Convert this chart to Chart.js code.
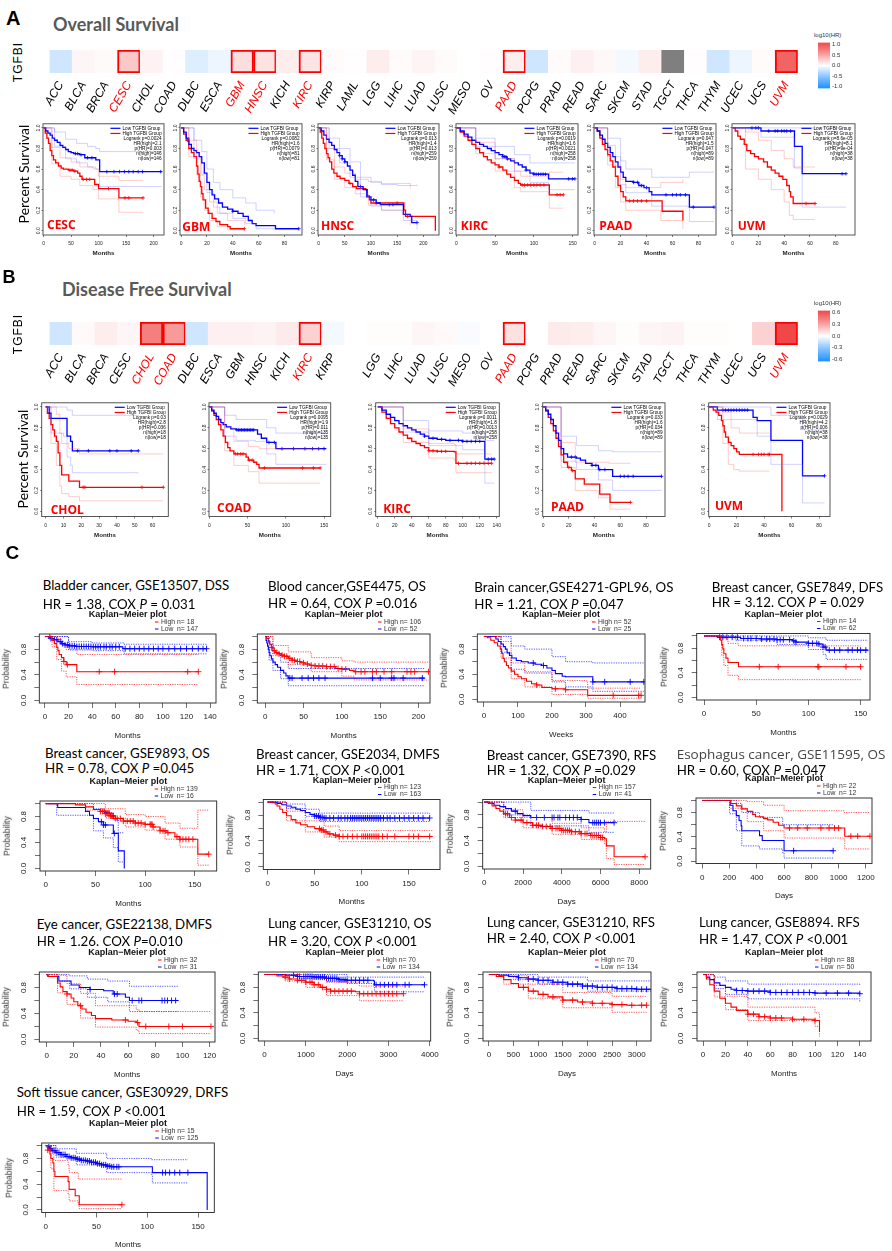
<!DOCTYPE html>
<html>
<head>
<meta charset="utf-8">
<title>TGFBI survival</title>
<script src="https://cdn.jsdelivr.net/npm/chart.js@4.4.1/dist/chart.umd.min.js"></script>
<style>
  html, body { margin: 0; padding: 0; background: #fff; }
  body { position: relative; width: 892px; height: 1251px; overflow: hidden; font-family: "Liberation Sans", Arial, sans-serif; }
  canvas, .t { position: absolute; }
  .t { white-space: nowrap; line-height: 1; color: #000; }
  .panel { font-weight: bold; font-size: 19px; }
  .head { font-family: Lato, sans-serif; font-weight: bold; font-size: 18px; color: #595959; }
  .ttl { font-family: Lato, sans-serif; font-size: 13.3px; }
  .rot { transform: translate(-50%, -50%) rotate(-90deg); }
</style>
</head>
<body>
<script>
// ---------- heatmap data ----------
const cancerTypes = ['ACC','BLCA','BRCA','CESC','CHOL','COAD','DLBC','ESCA','GBM','HNSC','KICH','KIRC','KIRP','LAML','LGG','LIHC','LUAD','LUSC','MESO','OV','PAAD','PCPG','PRAD','READ','SARC','SKCM','STAD','TGCT','THCA','THYM','UCEC','UCS','UVM'];
const osLogHR = [-0.22,0.05,0.03,0.3,0.07,0.01,-0.15,-0.08,0.18,0.16,0.1,0.15,0.02,0.01,0.1,0.02,0.06,0.02,0.0,0.01,0.1,-0.22,0.02,0.08,0.04,-0.05,0.1,NaN,0.01,-0.22,-0.08,0.02,0.85];
const osSig = ['CESC','GBM','HNSC','KIRC','PAAD','UVM'];
const dfsTypes = cancerTypes.map(c => c === 'LAML' ? '' : c);
const dfsLogHR = [-0.13,0.02,0.06,0.03,0.42,0.33,-0.13,0.05,0.05,0.04,0.07,0.15,-0.03,null,0.01,0.01,0.03,0.02,-0.02,0.0,0.1,0.0,0.07,0.06,0.03,0.01,0.03,0.04,0.01,0.01,0.0,0.15,0.6];
const dfsSig = ['CHOL','COAD','KIRC','PAAD','UVM'];
const osBarTicks = [-1,-0.5,0,0.5,1];
const dfsBarTicks = [-0.6,-0.3,0,0.3,0.6];

// ---------- A: overall survival (GEPIA) ----------
const osCescTicks = [0,50,100,150,200];
const osCescStats = ['Logrank p=0.0024','HR(high)=2.1','p(HR)=0.003','n(high)=146','n(low)=146'];
const osCescLow = [[0,1],[4,0.97],[8,0.95],[12,0.93],[16,0.9],[20,0.88],[25,0.86],[30,0.83],[35,0.81],[40,0.79],[45,0.77],[50,0.76],[55,0.75],[65,0.74],[75,0.71],[90,0.71],[95,0.69],[102,0.575],[215,0.575]];
const osCescLowUp = [[0,1],[20,0.96],[40,0.89],[60,0.85],[80,0.82],[95,0.8],[102,0.77],[215,0.77]];
const osCescLowLo = [[0,1],[20,0.82],[40,0.7],[60,0.66],[80,0.62],[95,0.6],[102,0.43],[215,0.43]];
const osCescLowCens = [58,62,68,80,88,115,128,138,147,155,163,172,180,213];
const osCescHigh = [[0,1],[3,0.95],[6,0.9],[9,0.85],[12,0.78],[15,0.73],[18,0.69],[22,0.66],[27,0.63],[32,0.61],[36,0.6],[45,0.59],[55,0.58],[62,0.56],[66,0.53],[70,0.5],[90,0.5],[93,0.45],[100,0.41],[136,0.41],[137,0.32],[181,0.32]];
const osCescHighUp = [[0,1],[15,0.81],[30,0.71],[50,0.67],[66,0.62],[90,0.6],[100,0.53],[136,0.53],[137,0.49],[181,0.49]];
const osCescHighLo = [[0,1],[15,0.65],[30,0.53],[50,0.5],[66,0.44],[90,0.4],[100,0.31],[136,0.3],[137,0.18],[181,0.18]];
const osCescHighCens = [48,52,57,72,78,84,118,148,155,181];

const osGbmTicks = [0,20,40,60,80];
const osGbmStats = ['Logrank p=0.0082','HR(high)=1.6','p(HR)=0.0079','n(high)=81','n(low)=81'];
const osGbmLow = [[0,1],[2,0.96],[4,0.9],[6,0.84],[8,0.8],[10,0.78],[12,0.76],[14,0.72],[16,0.66],[18,0.56],[20,0.47],[22,0.4],[24,0.35],[26,0.31],[29,0.27],[32,0.23],[36,0.21],[40,0.19],[44,0.17],[48,0.14],[52,0.1],[55,0.07],[58,0.05],[72,0.05],[73,0.02],[91,0.02]];
const osGbmLowUp = [[0,1],[10,0.88],[16,0.77],[20,0.6],[25,0.47],[30,0.4],[40,0.32],[50,0.27],[58,0.2],[72,0.17]];
const osGbmLowLo = [[0,1],[10,0.7],[16,0.55],[20,0.37],[25,0.23],[30,0.17],[40,0.12],[50,0.07],[58,0.02],[72,0.01]];
const osGbmLowCens = [40,91];
const osGbmHigh = [[0,1],[2,0.94],[4,0.88],[6,0.8],[8,0.76],[10,0.72],[12,0.63],[13,0.55],[14,0.48],[15,0.43],[16,0.36],[17,0.3],[19,0.22],[21,0.17],[24,0.12],[27,0.09],[30,0.06],[36,0.04],[38,0.02],[49,0.02]];
const osGbmHighUp = [[0,1],[6,0.88],[12,0.72],[15,0.54],[18,0.4],[22,0.28],[28,0.17],[36,0.1],[49,0.06]];
const osGbmHighLo = [[0,1],[6,0.72],[12,0.54],[15,0.33],[18,0.2],[22,0.1],[28,0.04],[36,0.01],[49,0.0]];
const osGbmHighCens = [5,49];

const osHnscTicks = [0,50,100,150,200];
const osHnscStats = ['Logrank p=0.013','HR(high)=1.4','p(HR)=0.013','n(high)=259','n(low)=259'];
const osHnscLow = [[0,1],[5,0.97],[10,0.93],[15,0.89],[20,0.86],[25,0.83],[30,0.79],[35,0.76],[40,0.73],[45,0.7],[50,0.67],[55,0.63],[60,0.59],[65,0.54],[70,0.48],[75,0.43],[85,0.4],[92,0.33],[100,0.3],[110,0.27],[118,0.255],[160,0.255],[162,0.16],[175,0.14],[178,0.08],[188,0.08]];
const osHnscLowUp = [[0,1],[20,0.9],[40,0.8],[60,0.67],[80,0.52],[100,0.47],[120,0.45],[150,0.44],[188,0.45]];
const osHnscLowLo = [[0,1],[20,0.8],[40,0.66],[60,0.52],[80,0.33],[100,0.24],[120,0.2],[162,0.1],[188,0.01]];
const osHnscLowCens = [40,45,50,80,105,135,142,188];
const osHnscHigh = [[0,1],[3,0.96],[6,0.9],[9,0.85],[12,0.8],[15,0.75],[18,0.71],[21,0.67],[25,0.6],[29,0.56],[35,0.53],[41,0.51],[50,0.49],[58,0.46],[65,0.43],[72,0.41],[90,0.4],[93,0.34],[97,0.3],[100,0.27],[160,0.27],[163,0.2],[166,0.14],[222,0.14],[223,0]];
const osHnscHighUp = [[0,1],[15,0.8],[30,0.62],[50,0.56],[70,0.5],[95,0.48],[120,0.46],[175,0.41]];
const osHnscHighLo = [[0,1],[15,0.69],[30,0.5],[50,0.42],[70,0.36],[95,0.25],[120,0.2],[160,0.16],[175,0.05]];
const osHnscHighCens = [60,110,150,170];

const osKircTicks = [0,50,100,150];
const osKircStats = ['Logrank p=0.0019','HR(high)=1.6','p(HR)=0.0021','n(high)=258','n(low)=258'];
const osKircLow = [[0,1],[5,0.97],[10,0.94],[15,0.91],[20,0.88],[25,0.86],[30,0.84],[35,0.82],[40,0.8],[45,0.78],[50,0.76],[55,0.74],[60,0.72],[65,0.7],[70,0.68],[75,0.66],[80,0.64],[85,0.62],[90,0.59],[95,0.56],[100,0.55],[118,0.55],[119,0.505],[153,0.505]];
const osKircLowUp = [[0,1],[25,0.9],[50,0.82],[75,0.74],[95,0.66],[119,0.66],[153,0.66]];
const osKircLowLo = [[0,1],[25,0.82],[50,0.7],[75,0.58],[95,0.47],[119,0.4],[153,0.4]];
const osKircLowCens = [60,62,64,66,90,100,103,106,109,112,115,145,150,153];
const osKircHigh = [[0,1],[5,0.96],[10,0.92],[15,0.88],[20,0.84],[25,0.8],[30,0.76],[35,0.72],[40,0.69],[45,0.66],[50,0.64],[55,0.62],[60,0.59],[65,0.55],[70,0.52],[75,0.49],[80,0.46],[83,0.445],[119,0.445],[120,0.35],[138,0.35]];
const osKircHighUp = [[0,1],[25,0.86],[50,0.7],[75,0.58],[83,0.53],[119,0.53],[120,0.57],[138,0.57]];
const osKircHighLo = [[0,1],[25,0.75],[50,0.58],[75,0.42],[83,0.38],[119,0.36],[120,0.22],[138,0.22]];
const osKircHighCens = [55,85,88,92,96,100,104,108,113,130,134,138];

const osPaadTicks = [0,20,40,60,80];
const osPaadStats = ['Logrank p=0.047','HR(high)=1.5','p(HR)=0.047','n(high)=89','n(low)=89'];
const osPaadLow = [[0,1],[2,0.97],[4,0.93],[6,0.89],[8,0.85],[10,0.81],[12,0.76],[14,0.72],[16,0.67],[18,0.62],[20,0.57],[22,0.52],[24,0.48],[30,0.47],[34,0.44],[38,0.42],[42,0.38],[44,0.35],[72,0.35],[73,0.23],[92,0.23]];
const osPaadLowUp = [[0,1],[10,0.9],[20,0.68],[24,0.6],[44,0.52],[72,0.52],[73,0.57],[92,0.57]];
const osPaadLowLo = [[0,1],[10,0.72],[20,0.45],[24,0.37],[44,0.24],[72,0.23],[73,0.09],[92,0.09]];
const osPaadLowCens = [30,33,36,40,55,60,63,66,70,76,92];
const osPaadHigh = [[0,1],[2,0.97],[4,0.9],[6,0.84],[8,0.79],[10,0.74],[12,0.68],[14,0.62],[16,0.53],[18,0.44],[20,0.38],[22,0.33],[24,0.29],[51,0.29],[52,0.19],[67,0.19],[68,0.1]];
const osPaadHighUp = [[0,1],[10,0.83],[16,0.63],[20,0.5],[24,0.42],[51,0.47],[68,0.5]];
const osPaadHighLo = [[0,1],[10,0.64],[16,0.42],[20,0.28],[24,0.2],[51,0.1],[68,0.02]];
const osPaadHighCens = [27,30,33,36,40];

const osUvmTicks = [0,20,40,60,80];
const osUvmStats = ['Logrank p=8.6e-05','HR(high)=8.1','p(HR)=9e-04','n(high)=38','n(low)=38'];
const osUvmLow = [[0,1],[21,1],[22,0.97],[47,0.97],[48,0.82],[53,0.82],[54,0.555],[88,0.555]];
const osUvmLowUp = [[0,1],[88,1]];
const osUvmLowLo = [[0,1],[21,1],[22,0.91],[47,0.91],[48,0.61],[53,0.61],[54,0.23],[88,0.23]];
const osUvmLowCens = [15,18,20,28,33,35,38,40,42,45,85,88];
const osUvmHigh = [[0,1],[2,0.97],[4,0.92],[6,0.89],[9,0.84],[11,0.78],[14,0.75],[17,0.72],[20,0.7],[24,0.67],[27,0.62],[30,0.59],[33,0.56],[36,0.53],[39,0.5],[42,0.44],[44,0.38],[45,0.33],[47,0.265],[64,0.265]];
const osUvmHighUp = [[0,1],[10,0.96],[20,0.88],[30,0.78],[40,0.7],[47,0.62],[64,0.62]];
const osUvmHighLo = [[0,1],[10,0.6],[20,0.5],[30,0.4],[40,0.28],[44,0.15],[47,0.11],[64,0.11]];
const osUvmHighCens = [57,64];

// ---------- B: disease free survival (GEPIA) ----------
const dfsCholTicks = [0,10,20,30,40,50,60];
const dfsCholStats = ['Logrank p=0.03','HR(high)=2.8','p(HR)=0.036','n(high)=18','n(low)=18'];
const dfsCholLow = [[0,1],[2,0.94],[3,0.89],[10,0.89],[12,0.72],[14,0.67],[15,0.58],[52,0.58]];
const dfsCholLowUp = [[0,1],[10,1],[12,0.97],[15,0.92],[52,0.92]];
const dfsCholLowLo = [[0,1],[3,0.75],[10,0.72],[12,0.52],[14,0.44],[15,0.37],[52,0.37]];
const dfsCholLowCens = [18,24,36,40,48,52];
const dfsCholHigh = [[0,1],[1,0.94],[2,0.89],[3,0.83],[4,0.78],[5,0.72],[6,0.67],[7,0.56],[8,0.44],[9,0.35],[13,0.29],[19,0.23],[66,0.23]];
const dfsCholHighUp = [[0,1],[3,1],[6,0.93],[8,0.75],[9,0.65],[13,0.6],[19,0.55],[66,0.55]];
const dfsCholHighLo = [[0,1],[3,0.65],[6,0.44],[8,0.24],[9,0.17],[13,0.14],[19,0.1],[66,0.1]];
const dfsCholHighCens = [21,22,54,66];

const dfsCoadTicks = [0,50,100,150];
const dfsCoadStats = ['Logrank p=0.0095','HR(high)=1.9','p(HR)=0.011','n(high)=135','n(low)=135'];
const dfsCoadLow = [[0,1],[3,0.97],[6,0.94],[9,0.91],[12,0.88],[15,0.85],[18,0.83],[22,0.81],[28,0.79],[35,0.78],[60,0.78],[63,0.74],[68,0.7],[75,0.66],[82,0.66],[87,0.6],[153,0.6]];
const dfsCoadLowUp = [[0,1],[20,0.92],[35,0.88],[60,0.88],[75,0.8],[87,0.75],[153,0.75]];
const dfsCoadLowLo = [[0,1],[20,0.72],[35,0.68],[60,0.67],[75,0.55],[87,0.45],[153,0.45]];
const dfsCoadLowCens = [36,38,40,42,44,46,48,50,52,54,56,58,78,85,95,110,125,135,143,150];
const dfsCoadHigh = [[0,1],[3,0.96],[6,0.92],[9,0.88],[12,0.83],[15,0.78],[18,0.72],[21,0.66],[24,0.61],[27,0.58],[32,0.55],[42,0.55],[48,0.52],[51,0.49],[58,0.47],[62,0.45],[65,0.415],[145,0.415]];
const dfsCoadHighUp = [[0,1],[20,0.8],[32,0.67],[51,0.62],[65,0.6],[145,0.6]];
const dfsCoadHighLo = [[0,1],[20,0.58],[32,0.44],[51,0.38],[65,0.27],[145,0.27]];
const dfsCoadHighCens = [34,37,41,44,52,56,72,122,136,145];

const dfsKircTicks = [0,20,40,60,80,100,120,140];
const dfsKircStats = ['Logrank p=0.0011','HR(high)=1.8','p(HR)=0.0013','n(high)=258','n(low)=258'];
const dfsKircLow = [[0,1],[5,0.97],[10,0.93],[15,0.9],[20,0.87],[25,0.84],[30,0.82],[35,0.8],[40,0.78],[45,0.76],[50,0.74],[55,0.72],[60,0.7],[70,0.69],[80,0.68],[100,0.67],[125,0.67],[126,0.5],[137,0.5]];
const dfsKircLowUp = [[0,1],[30,0.87],[60,0.77],[100,0.75],[125,0.75],[126,0.68],[137,0.68]];
const dfsKircLowLo = [[0,1],[30,0.76],[60,0.63],[100,0.59],[125,0.58],[126,0.27],[137,0.27]];
const dfsKircLowCens = [55,65,75,85,95,100,105,110,115,120,130,134,137];
const dfsKircHigh = [[0,1],[5,0.95],[10,0.89],[15,0.84],[20,0.8],[25,0.76],[30,0.73],[35,0.7],[40,0.67],[45,0.65],[50,0.63],[55,0.61],[60,0.58],[70,0.575],[90,0.57],[92,0.46],[134,0.46]];
const dfsKircHighUp = [[0,1],[30,0.79],[60,0.65],[90,0.64],[92,0.55],[134,0.55]];
const dfsKircHighLo = [[0,1],[30,0.66],[60,0.51],[90,0.49],[92,0.37],[134,0.37]];
const dfsKircHighCens = [60,65,70,75,80,95,105,110,115,120,125,130,134];

const dfsPaadTicks = [0,20,40,60,80];
const dfsPaadStats = ['Logrank p=0.033','HR(high)=1.6','p(HR)=0.034','n(high)=89','n(low)=89'];
const dfsPaadLow = [[0,1],[2,0.97],[4,0.93],[6,0.88],[8,0.82],[10,0.75],[12,0.68],[14,0.6],[16,0.55],[19,0.52],[26,0.51],[29,0.49],[33,0.46],[38,0.44],[43,0.4],[53,0.4],[54,0.335],[92,0.335]];
const dfsPaadLowUp = [[0,1],[14,0.72],[26,0.63],[43,0.58],[54,0.57],[92,0.57]];
const dfsPaadLowLo = [[0,1],[14,0.48],[26,0.4],[43,0.3],[54,0.2],[92,0.2]];
const dfsPaadLowCens = [22,25,38,41,44,48,60,63,66,70,92];
const dfsPaadHigh = [[0,1],[2,0.96],[4,0.9],[6,0.84],[8,0.77],[10,0.7],[12,0.62],[14,0.54],[16,0.47],[19,0.42],[22,0.39],[25,0.31],[32,0.26],[43,0.26],[44,0.165],[51,0.165],[52,0.085],[68,0.085]];
const dfsPaadHighUp = [[0,1],[14,0.66],[25,0.47],[43,0.47],[51,0.46],[68,0.46]];
const dfsPaadHighLo = [[0,1],[14,0.42],[25,0.2],[43,0.13],[52,0.02],[68,0.02]];
const dfsPaadHighCens = [20,23,68];

const dfsUvmTicks = [0,20,40,60,80];
const dfsUvmStats = ['Logrank p=0.0029','HR(high)=4.2','p(HR)=0.006','n(high)=38','n(low)=38'];
const dfsUvmLow = [[0,1],[5,1],[6,0.97],[30,0.97],[32,0.9],[35,0.87],[44,0.87],[45,0.68],[67,0.68],[68,0.34],[84,0.34]];
const dfsUvmLowUp = [[0,1],[44,1],[45,0.92],[67,0.92],[68,0.78],[84,0.78]];
const dfsUvmLowLo = [[0,1],[6,0.88],[30,0.88],[35,0.72],[44,0.72],[45,0.45],[67,0.45],[68,0.08],[84,0.08]];
const dfsUvmLowCens = [10,12,14,16,18,20,22,24,26,28,84];
const dfsUvmHigh = [[0,1],[3,0.97],[5,0.95],[7,0.92],[9,0.87],[10,0.82],[11,0.76],[12,0.71],[14,0.66],[16,0.63],[18,0.6],[20,0.57],[22,0.545],[52,0.545],[53,0]];
const dfsUvmHighUp = [[0,1],[10,0.95],[16,0.8],[22,0.75],[44,0.75]];
const dfsUvmHighLo = [[0,1],[10,0.65],[14,0.45],[18,0.4],[22,0.385],[44,0.385]];
const dfsUvmHighCens = [32,36,38,40,43,44];

// ---------- C: KM plotter style ----------
const cTitles = [
  ['Bladder cancer, GSE13507, DSS','HR = 1.38, COX <i>P</i> = 0.031'],
  ['Blood cancer,GSE4475, OS','HR = 0.64, COX <i>P</i> =0.016'],
  ['Brain cancer,GSE4271-GPL96, OS','HR = 1.21, COX <i>P</i> =0.047'],
  ['Breast cancer, GSE7849, DFS','HR = 3.12. COX <i>P</i> = 0.029'],
  ['Breast cancer, GSE9893, OS','HR = 0.78, COX <i>P</i> =0.045'],
  ['Breast cancer, GSE2034, DMFS','HR = 1.71, COX <i>P</i> &lt;0.001'],
  ['Breast cancer, GSE7390, RFS','HR = 1.32, COX <i>P</i> =0.029'],
  ['Esophagus cancer, GSE11595, OS','HR = 0.60, COX <i>P</i> =0.047'],
  ['Eye cancer, GSE22138, DMFS','HR = 1.26. COX <i>P</i>=0.010'],
  ['Lung cancer, GSE31210, OS','HR = 3.20, COX <i>P</i> &lt;0.001'],
  ['Lung cancer, GSE31210, RFS','HR = 2.40, COX <i>P</i> &lt;0.001'],
  ['Lung cancer, GSE8894. RFS','HR = 1.47, COX <i>P</i> &lt;0.001'],
  ['Soft tissue cancer, GSE30929, DRFS','HR = 1.59, COX <i>P</i> &lt;0.001']
];
const cGroupN = [[18,147],[106,52],[52,25],[14,62],[139,16],[123,163],[157,41],[22,12],[32,31],[70,134],[70,134],[88,50],[15,125]];
const cXLabels = ['Months','Months','Weeks','Months','Months','Months','Days','Days','Months','Days','Days','Months','Months'];

const bladderTicks = [0,20,40,60,80,100,120,140];
const bladderHigh = [[0,1],[5,1],[6,0.94],[8,0.89],[10,0.83],[11,0.78],[12,0.72],[14,0.67],[16,0.61],[18,0.56],[26,0.56],[27,0.45],[130,0.45]];
const bladderHighUp = [[0,1],[6,1],[10,0.97],[14,0.87],[18,0.8],[26,0.8],[27,0.72],[130,0.72]];
const bladderHighLo = [[0,1],[6,0.84],[10,0.64],[14,0.46],[18,0.37],[26,0.36],[27,0.25],[130,0.25]];
const bladderHighCens = [4,16,19,46,59,121,130];
const bladderLow = [[0,1],[3,0.99],[5,0.97],[8,0.95],[11,0.92],[14,0.89],[17,0.87],[20,0.855],[26,0.845],[40,0.84],[65,0.84],[66,0.81],[137,0.81]];
const bladderLowUp = [[0,1],[20,0.92],[40,0.9],[66,0.9],[67,0.88],[137,0.88]];
const bladderLowLo = [[0,1],[20,0.79],[40,0.78],[66,0.78],[67,0.73],[137,0.73]];
const bladderLowCens = [5,8,10,13,15,17,19,21,23,25,27,29,31,33,35,37,39,41,43,45,47,50,52,55,57,60,63,68,72,76,80,84,88,92,96,100,105,110,115,120,125,130,134,137];

const bloodTicks = [0,50,100,150,200];
const bloodHigh = [[0,1],[2,0.97],[4,0.92],[6,0.88],[8,0.83],[10,0.78],[13,0.75],[17,0.73],[21,0.71],[25,0.69],[30,0.66],[35,0.63],[40,0.61],[46,0.59],[52,0.57],[58,0.55],[65,0.54],[80,0.53],[92,0.5],[100,0.49],[110,0.47],[116,0.45],[213,0.45]];
const bloodHighUp = [[0,1],[10,0.86],[30,0.76],[60,0.67],[100,0.62],[116,0.6],[213,0.6]];
const bloodHighLo = [[0,1],[10,0.7],[30,0.56],[60,0.45],[100,0.38],[116,0.32],[213,0.32]];
const bloodHighCens = [8,12,15,18,22,25,28,32,35,38,42,45,50,55,60,65,70,75,80,85,90,95,100,105,118,125,130,140,145,155,165,185,190,195,213];
const bloodLow = [[0,1],[1,0.94],[2,0.9],[3,0.85],[4,0.8],[5,0.75],[6,0.7],[8,0.65],[10,0.6],[13,0.56],[16,0.52],[20,0.47],[24,0.43],[27,0.385],[30,0.35],[208,0.35]];
const bloodLowUp = [[0,1],[5,0.88],[10,0.73],[20,0.6],[30,0.5],[208,0.5]];
const bloodLowLo = [[0,1],[5,0.63],[10,0.47],[20,0.34],[30,0.23],[208,0.23]];
const bloodLowCens = [32,35,48,56,63,70,78,140,150,165,168,180,205];

const brainTicks = [0,100,200,300,400];
const brainHigh = [[0,1],[10,0.98],[20,0.94],[30,0.9],[40,0.85],[48,0.8],[52,0.73],[56,0.65],[60,0.6],[66,0.54],[72,0.5],[80,0.45],[90,0.4],[100,0.36],[110,0.33],[125,0.29],[140,0.25],[155,0.23],[170,0.19],[200,0.17],[240,0.155],[302,0.155],[305,0.065],[462,0.065]];
const brainHighUp = [[0,1],[50,0.92],[80,0.58],[120,0.44],[200,0.3],[302,0.28],[305,0.18],[462,0.18]];
const brainHighLo = [[0,1],[50,0.66],[80,0.33],[120,0.2],[200,0.08],[302,0.07],[305,0.02],[462,0.02]];
const brainHighCens = [155,210,240,380,455,462];
const brainLow = [[0,1],[30,1],[35,0.96],[42,0.92],[50,0.88],[57,0.84],[63,0.8],[68,0.74],[75,0.7],[82,0.66],[95,0.62],[110,0.6],[130,0.58],[150,0.56],[170,0.54],[185,0.5],[200,0.46],[210,0.41],[230,0.37],[240,0.36],[315,0.36],[320,0.28],[470,0.28]];
const brainLowUp = [[0,1],[50,1],[80,0.85],[120,0.8],[200,0.68],[240,0.6],[320,0.58],[470,0.58]];
const brainLowLo = [[0,1],[50,0.75],[80,0.48],[120,0.42],[200,0.28],[240,0.2],[320,0.13],[470,0.13]];
const brainLowCens = [145,175,320,355,430,470];

const br7849Ticks = [0,50,100,150];
const br7849High = [[0,1],[15,1],[16,0.93],[17,0.86],[18,0.79],[19,0.71],[21,0.64],[23,0.57],[32,0.57],[33,0.5],[150,0.5]];
const br7849HighUp = [[0,1],[15,1],[19,0.96],[23,0.88],[33,0.84],[150,0.84]];
const br7849HighLo = [[0,1],[15,1],[17,0.68],[19,0.52],[23,0.36],[33,0.29],[150,0.29]];
const br7849HighCens = [53,71,109,110,136,150];
const br7849Low = [[0,1],[12,1],[13,0.98],[30,0.98],[35,0.96],[55,0.95],[70,0.94],[85,0.92],[88,0.9],[100,0.88],[110,0.87],[114,0.82],[117,0.77],[157,0.77]];
const br7849LowUp = [[0,1],[88,1],[100,0.97],[117,0.93],[157,0.93]];
const br7849LowLo = [[0,1],[12,1],[30,0.93],[70,0.86],[100,0.78],[114,0.7],[117,0.62],[157,0.62]];
const br7849LowCens = [15,18,22,27,32,38,42,45,50,55,60,63,67,70,73,76,82,86,88,100,104,108,110,114,116,120,125,130,138,142,147,150,155];

const br9893Ticks = [0,50,100,150];
const br9893High = [[0,1],[20,1],[30,0.98],[40,0.95],[48,0.91],[55,0.88],[60,0.85],[65,0.81],[70,0.77],[78,0.73],[90,0.7],[100,0.68],[108,0.64],[115,0.58],[122,0.55],[130,0.49],[135,0.45],[152,0.45],[153,0.22],[164,0.22]];
const br9893HighUp = [[0,1],[40,1],[60,0.92],[80,0.83],[100,0.8],[120,0.7],[135,0.62],[152,0.62],[153,0.9],[164,0.9]];
const br9893HighLo = [[0,1],[40,0.9],[60,0.78],[80,0.64],[100,0.59],[120,0.45],[135,0.33],[152,0.33],[153,0.05],[164,0.05]];
const br9893HighCens = [55,57,59,60,61,62,63,64,65,66,67,68,70,72,75,78,82,85,88,90,93,96,100,105,106,107,108,115,118,120,123,132,135,138,141,144,148,164];
const br9893Low = [[0,1],[11,1],[12,0.94],[36,0.94],[40,0.88],[44,0.82],[48,0.77],[53,0.72],[58,0.67],[66,0.67],[68,0.54],[73,0.27],[78,0.27],[79,0]];
const br9893LowUp = [[0,1],[36,1],[48,0.92],[58,0.86],[68,0.75],[73,0.55],[78,0.55]];
const br9893LowLo = [[0,1],[11,0.82],[36,0.82],[48,0.58],[58,0.47],[66,0.47],[68,0.32],[73,0.1],[78,0.1]];
const br9893LowCens = [56,58,60,69];

const br2034Ticks = [0,50,100,150];
const br2034High = [[0,1],[5,0.99],[8,0.97],[10,0.94],[13,0.89],[16,0.84],[20,0.79],[25,0.73],[30,0.68],[35,0.65],[42,0.62],[50,0.59],[56,0.57],[60,0.54],[64,0.51],[70,0.49],[76,0.47],[175,0.47]];
const br2034HighUp = [[0,1],[20,0.86],[40,0.71],[60,0.63],[76,0.56],[175,0.56]];
const br2034HighLo = [[0,1],[20,0.71],[40,0.54],[60,0.46],[76,0.39],[175,0.39]];
const br2034HighCens = [55,57,59,62,66,72,76,80,85,90,95,100,102,104,106,108,110,112,114,116,118,122,127,135,150,155,160,172];
const br2034Low = [[0,1],[5,1],[10,0.98],[15,0.96],[20,0.94],[25,0.92],[30,0.89],[35,0.87],[40,0.84],[45,0.81],[50,0.785],[55,0.765],[60,0.755],[172,0.755]];
const br2034LowUp = [[0,1],[20,0.97],[40,0.89],[55,0.83],[172,0.82]];
const br2034LowLo = [[0,1],[20,0.9],[40,0.78],[55,0.7],[172,0.69]];
const br2034LowCens = [50,52,54,56,58,60,62,66,70,75,78,82,85,88,90,92,94,96,98,100,102,104,106,108,110,112,114,116,118,120,123,127,130,135,140,145,150,155,160,165,172];

const br7390Ticks = [0,2000,4000,6000,8000];
const br7390High = [[0,1],[200,0.98],[400,0.94],[600,0.9],[800,0.86],[1000,0.82],[1300,0.76],[1600,0.72],[2000,0.68],[2500,0.64],[3000,0.62],[3500,0.59],[4000,0.56],[4500,0.54],[5000,0.51],[5500,0.48],[6000,0.45],[6200,0.43],[6300,0.32],[6600,0.32],[6700,0.15],[8300,0.15]];
const br7390HighUp = [[0,1],[1000,0.88],[2000,0.76],[3500,0.67],[5000,0.6],[6200,0.54],[6300,0.7],[8300,0.7]];
const br7390HighLo = [[0,1],[1000,0.76],[2000,0.6],[3500,0.5],[5000,0.42],[6200,0.35],[6300,0.12],[6700,0.03],[8300,0.03]];
const br7390HighCens = [1100,1200,1400,1600,1900,2200,2500,2700,2800,3000,3200,3400,3500,3700,3800,3900,4000,4100,4200,4300,4400,4500,4700,4900,5000,5200,5300,5500,5600,5700,5800,5900,6000,6100,8300];
const br7390Low = [[0,1],[250,0.98],[500,0.95],[800,0.93],[1100,0.9],[1400,0.86],[1700,0.82],[2000,0.79],[2400,0.76],[4800,0.76],[5000,0.73],[5400,0.68],[6700,0.68]];
const br7390LowUp = [[0,1],[1000,1],[2400,0.87],[4800,0.87],[5400,0.83],[6700,0.83]];
const br7390LowLo = [[0,1],[1000,0.8],[2400,0.63],[4800,0.63],[5400,0.53],[6700,0.53]];
const br7390LowCens = [1600,2700,3100,3500,3600,3800,3900,4200,4400,4600,4800,5000,5600,5700,5800,5900,6000,6200,6700];

const esoTicks = [0,200,400,600,800,1000,1200];
const esoHigh = [[0,1],[200,1],[210,0.95],[250,0.91],[290,0.86],[330,0.82],[370,0.77],[390,0.73],[450,0.7],[480,0.68],[520,0.64],[560,0.59],[600,0.545],[1040,0.545],[1045,0.41],[1230,0.41]];
const esoHighUp = [[0,1],[200,1],[330,0.98],[450,0.92],[600,0.83],[1040,0.8],[1230,0.8]];
const esoHighLo = [[0,1],[200,0.87],[330,0.65],[450,0.5],[600,0.38],[1040,0.36],[1045,0.2],[1230,0.2]];
const esoHighCens = [640,700,770,870,930,970,1000,1090,1140,1230];
const esoLow = [[0,1],[200,1],[205,0.92],[225,0.83],[250,0.75],[270,0.67],[285,0.58],[290,0.5],[410,0.5],[420,0.42],[440,0.34],[590,0.34],[600,0.17],[960,0.17]];
const esoLowUp = [[0,1],[200,1],[250,0.95],[290,0.8],[420,0.72],[590,0.6],[960,0.6]];
const esoLowLo = [[0,1],[200,0.78],[250,0.5],[290,0.25],[420,0.2],[590,0.14],[600,0.05],[960,0.05]];
const esoLowCens = [670,960];

const eyeTicks = [0,20,40,60,80,100,120];
const eyeHigh = [[0,1],[1,0.97],[7,0.97],[8,0.87],[10,0.81],[12,0.74],[15,0.7],[18,0.64],[20,0.58],[23,0.52],[26,0.47],[29,0.42],[33,0.37],[36,0.32],[48,0.3],[60,0.28],[66,0.26],[68,0.2],[121,0.2]];
const eyeHighUp = [[0,1],[8,0.99],[15,0.86],[25,0.71],[36,0.52],[66,0.46],[68,0.43],[121,0.43]];
const eyeHighLo = [[0,1],[8,0.72],[15,0.54],[25,0.33],[36,0.19],[66,0.14],[68,0.09],[121,0.09]];
const eyeHighCens = [15,25,58,67,73,90,100,121];
const eyeLow = [[0,1],[1,0.97],[8,0.97],[9,0.9],[17,0.9],[18,0.84],[24,0.8],[32,0.77],[42,0.75],[49,0.7],[58,0.65],[61,0.6],[97,0.6]];
const eyeLowUp = [[0,1],[8,1],[17,0.98],[30,0.93],[45,0.9],[61,0.82],[97,0.82]];
const eyeLowLo = [[0,1],[8,0.9],[17,0.78],[30,0.65],[45,0.58],[61,0.43],[97,0.43]];
const eyeLowCens = [32,50,52,63,68,70,85,87,89,92,95];

const lungOsTicks = [0,1000,2000,3000,4000];
const lungOsHigh = [[0,1],[200,1],[300,0.98],[450,0.96],[600,0.93],[800,0.91],[1000,0.88],[1200,0.84],[1350,0.8],[1500,0.77],[1600,0.74],[2200,0.73],[2300,0.7],[3360,0.7]];
const lungOsHighUp = [[0,1],[500,1],[1000,0.95],[1500,0.88],[2300,0.82],[3360,0.82]];
const lungOsHighLo = [[0,1],[500,0.9],[1000,0.8],[1500,0.67],[2300,0.59],[3360,0.58]];
const lungOsHighCens = [500,600,800,900,1000,1100,1150,1200,1300,1400,1500,1600,1700,1800,1900,2000,2100,2300,2400,2500,2600,2700,2800,2900,3000,3100,3200,3360];
const lungOsLow = [[0,1],[300,1],[500,0.99],[800,0.97],[1200,0.96],[1500,0.94],[1800,0.92],[2000,0.91],[2640,0.9],[2660,0.84],[3870,0.84]];
const lungOsLowUp = [[0,1],[800,1],[2000,0.96],[3870,0.97]];
const lungOsLowLo = [[0,1],[800,0.94],[1500,0.89],[2000,0.86],[2640,0.84],[2660,0.73],[3870,0.73]];
const lungOsLowCens = [700,800,850,950,1000,1050,1100,1150,1200,1250,1300,1350,1400,1450,1500,1550,1600,1650,1700,1750,1800,1850,1900,1950,2000,2100,2200,2300,2400,2500,2700,2800,2900,3000,3100,3200,3400,3500,3870];

const lungRfsTicks = [0,500,1000,1500,2000,2500,3000];
const lungRfsHigh = [[0,1],[150,0.97],[300,0.92],[450,0.86],[600,0.8],[800,0.74],[1000,0.69],[1200,0.65],[1500,0.6],[1800,0.57],[2100,0.55],[2500,0.53],[2800,0.52],[3200,0.52]];
const lungRfsHighUp = [[0,1],[300,0.98],[800,0.85],[1500,0.72],[2500,0.66],[3200,0.66]];
const lungRfsHighLo = [[0,1],[300,0.85],[800,0.63],[1500,0.48],[2500,0.41],[3200,0.4]];
const lungRfsHighCens = [700,900,1100,1300,1500,1700,1900,2100,2300,2500,2700,2900,3100,3200];
const lungRfsLow = [[0,1],[200,0.99],[400,0.97],[600,0.95],[800,0.93],[1000,0.91],[1300,0.88],[1600,0.85],[1900,0.82],[2200,0.8],[2600,0.78],[3000,0.77],[3300,0.77]];
const lungRfsLowUp = [[0,1],[500,1],[1000,0.96],[2000,0.9],[3300,0.87]];
const lungRfsLowLo = [[0,1],[500,0.92],[1000,0.85],[2000,0.74],[3300,0.67]];
const lungRfsLowCens = [600,800,900,1000,1100,1200,1300,1400,1500,1600,1700,1800,1900,2000,2100,2200,2300,2400,2500,2600,2700,2800,2900,3000,3100,3200,3300];

const lung8894Ticks = [0,20,40,60,80,100,120,140];
const lung8894High = [[0,1],[3,0.93],[6,0.84],[10,0.74],[15,0.63],[20,0.55],[25,0.49],[30,0.44],[40,0.38],[50,0.34],[60,0.32],[80,0.3],[100,0.28],[104,0.1]];
const lung8894HighUp = [[0,1],[10,0.83],[20,0.66],[40,0.49],[100,0.4],[104,0.3]];
const lung8894HighLo = [[0,1],[10,0.65],[20,0.45],[40,0.28],[100,0.19],[104,0.03]];
const lung8894HighCens = [40,45,50,55,60,65,70,80,90,100];
const lung8894Low = [[0,1],[3,0.96],[6,0.92],[10,0.87],[15,0.83],[20,0.8],[25,0.77],[30,0.75],[40,0.74],[60,0.72],[100,0.71],[140,0.7]];
const lung8894LowUp = [[0,1],[10,0.96],[20,0.9],[40,0.85],[140,0.83]];
const lung8894LowLo = [[0,1],[10,0.78],[20,0.69],[40,0.62],[140,0.58]];
const lung8894LowCens = [30,35,40,45,50,55,60,65,70,75,80,85,90,95,100,110,120,130,140];

const softTicks = [0,50,100,150];
const softHigh = [[0,1],[2,0.93],[4,0.87],[5,0.8],[7,0.73],[8,0.6],[9,0.52],[21,0.52],[22,0.44],[23,0.32],[28,0.32],[29,0.22],[32,0.22],[33,0.08],[75,0.08]];
const softHighUp = [[0,1],[5,1],[8,0.77],[22,0.7],[23,0.58],[32,0.48],[75,0.48]];
const softHighLo = [[0,1],[5,0.64],[8,0.3],[22,0.24],[23,0.14],[32,0.08],[33,0.02],[75,0.02]];
const softHighCens = [2,75];
const softLow = [[0,1],[2,0.98],[4,0.95],[6,0.92],[10,0.89],[15,0.86],[20,0.83],[25,0.81],[30,0.79],[35,0.77],[40,0.76],[45,0.74],[50,0.72],[55,0.7],[60,0.68],[65,0.67],[104,0.67],[105,0.58],[158,0.58],[159,0]];
const softLowUp = [[0,1],[10,0.95],[30,0.88],[60,0.8],[104,0.78],[140,0.78]];
const softLowLo = [[0,1],[10,0.82],[30,0.7],[60,0.58],[104,0.55],[105,0.42],[140,0.42]];
const softLowCens = [3,5,7,9,11,13,15,17,19,21,23,25,27,29,31,33,35,37,39,41,43,45,47,49,51,53,55,57,59,61,63,65,67,70,72,115,118,122,127,132,140];

// ---------- helpers ----------
Chart.defaults.font.family = '"Liberation Sans", Arial, sans-serif';
Chart.defaults.color = '#222';
const RED = '#ff0000', BLUE = '#0000ff';

function makeCanvas(x, y, w, h) {
  const c = document.createElement('canvas');
  c.width = w; c.height = h;
  c.style.left = x + 'px'; c.style.top = y + 'px';
  c.style.width = w + 'px'; c.style.height = h + 'px';
  document.body.appendChild(c);
  return c;
}

function addText(html, x, y, cls, css) {
  const d = document.createElement('div');
  d.className = 't ' + (cls || '');
  d.innerHTML = html;
  d.style.left = x + 'px';
  d.style.top = y + 'px';
  if (css) d.style.cssText += css;
  document.body.appendChild(d);
  return d;
}

function survAt(curve, t) {
  let s = curve[0][1];
  for (const [x, y] of curve) { if (x <= t) s = y; else break; }
  return s;
}

const pts = a => a.map(([x, y]) => ({x, y}));

function lineSet(data, color, width, dash) {
  return {data: pts(data), borderColor: color, borderWidth: width, borderDash: dash || [],
    stepped: true, pointRadius: 0, fill: false};
}

function censSet(curve, times, color, r, w) {
  return {data: times.map(t => ({x: t, y: survAt(curve, t)})), showLine: false,
    pointStyle: 'cross', pointRadius: r, borderColor: color, borderWidth: w};
}

function hrColor(v, lim) {
  if (v === null) return 'rgba(0,0,0,0)';
  if (Number.isNaN(v)) return '#7f7f7f';
  const t = Math.max(-1, Math.min(1, v / lim));
  const end = t >= 0 ? [240, 72, 72] : [30, 144, 255];
  const a = Math.abs(t);
  const c = end.map(e => Math.round(255 + (e - 255) * a));
  return `rgb(${c[0]},${c[1]},${c[2]})`;
}

// ---------- heatmap + colour bar ----------
function heatmap(types, vals, sig, lim, top) {
  const cv = makeCanvas(20, top, 785, 74);
  new Chart(cv, {
    type: 'bar',
    data: {labels: types, datasets: [{
      data: vals.map(v => v === null ? null : 1),
      backgroundColor: vals.map(v => hrColor(v, lim)),
      borderColor: RED,
      borderWidth: types.map(c => sig.includes(c) ? 2 : 0),
      borderSkipped: false, barPercentage: 1, categoryPercentage: 1
    }]},
    options: {
      responsive: false, animation: false, events: [],
      layout: {padding: {left: 29.5, right: 6, top: 0, bottom: 0}},
      plugins: {legend: {display: false}, tooltip: {enabled: false}},
      scales: {
        x: {
          afterFit: s => { s.height = 74 - 23; },
          grid: {display: false, drawTicks: false, tickLength: 0}, border: {display: false},
          ticks: {autoSkip: false, minRotation: 60, maxRotation: 60, padding: 6,
            font: {size: 12, style: 'italic'},
            color: c => sig.includes(types[c.index]) ? RED : '#000'}
        },
        y: {display: false, min: 0, max: 1}
      }
    }
  });
}

function colorbar(lim, ext, ticks, top, h) {
  const cv = makeCanvas(818, top - 3, 36, h + 6);
  new Chart(cv, {
    type: 'bar',
    data: {labels: [''], datasets: [{
      data: [[-ext, ext]], borderWidth: 0, barPercentage: 1, categoryPercentage: 1,
      backgroundColor: c => {
        const a = c.chart.chartArea;
        if (!a) return 'rgba(0,0,0,0)';
        const g = c.chart.ctx.createLinearGradient(0, a.bottom, 0, a.top);
        [-1, -0.5, 0, 0.5, 1].forEach(v => g.addColorStop((v + 1) / 2, hrColor(v * ext, lim)));
        return g;
      }
    }]},
    options: {
      responsive: false, animation: false, events: [],
      layout: {padding: {top: 3, bottom: 3, left: 0, right: 0}},
      plugins: {legend: {display: false}, tooltip: {enabled: false}},
      scales: {
        x: {display: false},
        y: {position: 'right', min: -ext, max: ext,
          afterBuildTicks: s => { s.ticks = ticks.map(v => ({value: v})); },
          afterFit: s => { s.width = 24; },
          grid: {display: false, drawTicks: false, tickLength: 0}, border: {display: false},
          ticks: {padding: 2, font: {size: 6}, color: '#333', callback: v => v.toFixed(1)}}
      }
    }
  });
}

// ---------- KM plots ----------
const gepiaStyle = {
  padL: 12, padT: 2, padR: 6, padB: 21.6, yTicks: [0,0.2,0.4,0.6,0.8,1], yLabels: [0,0.2,0.4,0.6,0.8,1],
  tickSize: 5, xTickLen: 2, xTickPad: 4, yTickLen: 1.5, yLabOff: 2.3, titleSize: 6.2, titleWeight: 'bold',
  axisColor: '#444', boxColor: '#444', boxW: 0.9, lineW: 1.3, ciW: 0.8, ciDash: [],
  ciColors: ['rgba(90,90,255,0.35)', 'rgba(255,70,70,0.35)'], censR: 1.8, censW: 0.8
};
const rStyle = {
  padL: 40, padT: 25, padR: 10, padB: 37.3, yTicks: [0,0.2,0.4,0.6,0.8,1], yLabels: [0,0.4,0.8],
  tickSize: 8, xTickLen: 5, xTickPad: 4.2, yTickLen: 5, yLabOff: 12, titleSize: 8, titleWeight: 'normal',
  axisColor: '#333', boxColor: '#222', boxW: 0.9, lineW: 1.1, ciW: 0.8, ciDash: [1.2, 1.2],
  ciColors: ['rgba(255,0,0,0.85)', 'rgba(0,0,255,0.85)'], censR: 3, censW: 0.9, y: [-0.04, 1.04]
};

function gepiaLegend(ctx, a, p) {
  ctx.font = '4.7px "Liberation Sans"';
  const right = a.right - 2.5;
  const tx = right - ctx.measureText('High TGFBI Group').width;
  const y0 = a.top + 4.5, dy = 5.15;
  ['Low TGFBI Group', 'High TGFBI Group'].forEach((s, i) => {
    ctx.strokeStyle = i ? RED : BLUE; ctx.lineWidth = 1.2;
    ctx.beginPath(); ctx.moveTo(tx - 12, y0 + i * dy); ctx.lineTo(tx - 2, y0 + i * dy); ctx.stroke();
    ctx.fillStyle = '#000'; ctx.textAlign = 'left'; ctx.textBaseline = 'middle';
    ctx.fillText(s, tx, y0 + i * dy);
  });
  ctx.textAlign = 'right';
  p.stats.forEach((s, i) => ctx.fillText(s, right, y0 + (i + 2) * dy));
  ctx.font = 'bold 12px "Open Sans"'; ctx.fillStyle = RED;
  ctx.textAlign = 'left'; ctx.textBaseline = 'alphabetic';
  ctx.fillText(p.name, a.left + p.lab[0], a.bottom - p.lab[1]);
}

function rLegend(ctx, a, p) {
  ctx.fillStyle = '#111';
  ctx.font = 'bold 9px "Liberation Sans"'; ctx.textAlign = 'center'; ctx.textBaseline = 'middle';
  ctx.fillText('Kaplan\u2212Meier plot', (a.left + a.right) / 2, a.top - 19);
  ctx.font = '6.8px "Liberation Sans"'; ctx.textAlign = 'left';
  const x0 = a.right - p.lx;
  [['High', p.n[0], RED, a.top - 12], ['Low', p.n[1], BLUE, a.top - 5]].forEach(([g, n, col, y]) => {
    ctx.strokeStyle = col; ctx.lineWidth = 1;
    ctx.beginPath(); ctx.moveTo(x0, y); ctx.lineTo(x0 + 3.5, y); ctx.stroke();
    ctx.fillStyle = '#333';
    ctx.fillText(g, x0 + 6, y);
    ctx.fillText('n= ' + n, x0 + 22, y);
  });
}

function decoPlugin(p, st, legendFn) {
  return {
    id: 'deco',
    afterDraw(chart) {
      const {ctx, chartArea: a, scales: {y}} = chart;
      ctx.save();
      ctx.strokeStyle = st.boxColor; ctx.lineWidth = st.boxW;
      ctx.strokeRect(a.left, a.top, a.right - a.left, a.bottom - a.top);
      ctx.fillStyle = '#222';
      ctx.font = st.tickSize + 'px "Liberation Sans"';
      st.yLabels.forEach(v => {
        ctx.save();
        ctx.translate(a.left - st.yLabOff, y.getPixelForValue(v));
        ctx.rotate(-Math.PI / 2);
        ctx.textAlign = 'center'; ctx.textBaseline = 'bottom';
        ctx.fillText(v.toFixed(1), 0, 0);
        ctx.restore();
      });
      legendFn(ctx, a, p);
      ctx.restore();
    }
  };
}

function kmChart(p, st, legendFn) {
  const [l, t, r, b] = p.box;
  const cl = Math.floor(l - st.padL), ct = Math.floor(t - st.padT);
  const cw = Math.ceil(r + st.padR - cl), ch = Math.ceil(b + st.padB - ct);
  const padL = l - cl, padT = t - ct, padR = cl + cw - r, padB = ct + ch - b;
  const cv = makeCanvas(cl, ct, cw, ch);
  const ds = [];
  p.sets.forEach(s => {
    ds.push(lineSet(s.up, s.ci, st.ciW, st.ciDash));
    ds.push(lineSet(s.lo, s.ci, st.ciW, st.ciDash));
  });
  p.sets.forEach(s => ds.push(lineSet(s.curve, s.color, st.lineW)));
  p.sets.forEach(s => ds.push(censSet(s.curve, s.cens, s.color, st.censR, st.censW)));
  const gridOpt = len => ({display: true, drawOnChartArea: false, drawTicks: true, tickLength: len,
    color: st.axisColor, lineWidth: 0.7});
  new Chart(cv, {
    type: 'line',
    data: {datasets: ds},
    options: {
      responsive: false, animation: false, events: [],
      layout: {padding: {left: 0, top: padT, right: padR, bottom: 0}},
      plugins: {legend: {display: false}, tooltip: {enabled: false}},
      scales: {
        x: {
          type: 'linear', bounds: 'data', min: p.x[0], max: p.x[1],
          afterBuildTicks: s => { s.ticks = p.ticks.map(v => ({value: v})); },
          afterFit: s => { s.height = padB; },
          border: {display: false}, grid: gridOpt(st.xTickLen),
          ticks: {autoSkip: false, maxRotation: 0, minRotation: 0, padding: st.xTickPad,
            color: '#222', font: {size: st.tickSize}, callback: v => String(v)},
          title: {display: true, text: p.xlab, padding: 0, color: '#222',
            font: {size: st.titleSize, weight: st.titleWeight}}
        },
        y: {
          type: 'linear', bounds: 'data', min: st.y[0], max: st.y[1],
          afterBuildTicks: s => { s.ticks = st.yTicks.map(v => ({value: v})); },
          afterFit: s => { s.width = padL; },
          border: {display: false}, grid: gridOpt(st.yTickLen),
          ticks: {display: false}
        }
      }
    },
    plugins: [decoPlugin(p, st, legendFn)]
  });
}

function gepiaSets(low, lowUp, lowLo, lowCens, high, highUp, highLo, highCens) {
  return [
    {curve: low, up: lowUp, lo: lowLo, cens: lowCens, color: BLUE, ci: gepiaStyle.ciColors[0]},
    {curve: high, up: highUp, lo: highLo, cens: highCens, color: RED, ci: gepiaStyle.ciColors[1]}
  ];
}
function rSets(high, highUp, highLo, highCens, low, lowUp, lowLo, lowCens) {
  return [
    {curve: high, up: highUp, lo: highLo, cens: highCens, color: RED, ci: rStyle.ciColors[0]},
    {curve: low, up: lowUp, lo: lowLo, cens: lowCens, color: BLUE, ci: rStyle.ciColors[1]}
  ];
}

// ---------- page ----------
addText('A', 6, 8, 'panel', 'font-size:20px;');
addText('Overall Survival', 53, 15, 'head');
addText('TGFBI', 18, 61.5, 'rot', 'font-size:12px;letter-spacing:1px;');
heatmap(cancerTypes, osLogHR, osSig, 1, 50);
addText('log10(HR)', 814, 32, '', 'font-size:6px;color:#333;');
colorbar(1, 1.085, osBarTicks, 40, 51);

const styleA = Object.assign({}, gepiaStyle, {y: [-0.041, 1.04]});
const plotsA = [
  {box: [43,121.5,164,235], x: [-1,219], ticks: osCescTicks, name: 'CESC', stats: osCescStats, lab: [4,6],
    sets: gepiaSets(osCescLow, osCescLowUp, osCescLowLo, osCescLowCens, osCescHigh, osCescHighUp, osCescHighLo, osCescHighCens)},
  {box: [180,121.5,302,235], x: [-0.8,93.5], ticks: osGbmTicks, name: 'GBM', stats: osGbmStats, lab: [2.3,4.3],
    sets: gepiaSets(osGbmLow, osGbmLowUp, osGbmLowLo, osGbmLowCens, osGbmHigh, osGbmHighUp, osGbmHighLo, osGbmHighCens)},
  {box: [318,121.5,439,235], x: [-1.2,230], ticks: osHnscTicks, name: 'HNSC', stats: osHnscStats, lab: [3,5],
    sets: gepiaSets(osHnscLow, osHnscLowUp, osHnscLowLo, osHnscLowCens, osHnscHigh, osHnscHighUp, osHnscHighLo, osHnscHighCens)},
  {box: [456,121.5,578,235], x: [-0.5,157], ticks: osKircTicks, name: 'KIRC', stats: osKircStats, lab: [4.7,5],
    sets: gepiaSets(osKircLow, osKircLowUp, osKircLowLo, osKircLowCens, osKircHigh, osKircHighUp, osKircHighLo, osKircHighCens)},
  {box: [594,121.5,716,235], x: [-0.5,93.5], ticks: osPaadTicks, name: 'PAAD', stats: osPaadStats, lab: [5.3,5],
    sets: gepiaSets(osPaadLow, osPaadLowUp, osPaadLowLo, osPaadLowCens, osPaadHigh, osPaadHighUp, osPaadHighLo, osPaadHighCens)},
  {box: [732,121.5,855,235], x: [-0.5,95], ticks: osUvmTicks, name: 'UVM', stats: osUvmStats, lab: [5.7,5],
    sets: gepiaSets(osUvmLow, osUvmLowUp, osUvmLowLo, osUvmLowCens, osUvmHigh, osUvmHighUp, osUvmHighLo, osUvmHighCens)}
];
plotsA.forEach(p => { p.xlab = 'Months'; kmChart(p, styleA, gepiaLegend); });
addText('Percent Survival', 24, 173.5, 'rot', 'font-family:Lato,sans-serif;font-size:14px;');

addText('B', 2.5, 268, 'panel', 'font-size:18px;');
addText('Disease Free Survival', 62, 280, 'head');
addText('TGFBI', 18, 333.5, 'rot', 'font-size:12px;letter-spacing:1px;');
heatmap(dfsTypes, dfsLogHR, dfsSig, 0.6, 322);
addText('log10(HR)', 814, 300, '', 'font-size:6px;color:#333;');
colorbar(0.6, 0.646, dfsBarTicks, 308, 56);

const styleB = Object.assign({}, gepiaStyle, {y: [-0.05, 1.04]});
const plotsB = [
  {box: [41.7,400,168.3,516.5], x: [-2.2,68.8], ticks: dfsCholTicks, name: 'CHOL', stats: dfsCholStats, lab: [9,2.5],
    sets: gepiaSets(dfsCholLow, dfsCholLowUp, dfsCholLowLo, dfsCholLowCens, dfsCholHigh, dfsCholHighUp, dfsCholHighLo, dfsCholHighCens)},
  {box: [209,400,330.7,516.5], x: [-0.5,158.7], ticks: dfsCoadTicks, name: 'COAD', stats: dfsCoadStats, lab: [8,4.8],
    sets: gepiaSets(dfsCoadLow, dfsCoadLowUp, dfsCoadLowLo, dfsCoadLowCens, dfsCoadHigh, dfsCoadHighUp, dfsCoadHighLo, dfsCoadHighCens)},
  {box: [375.7,400,499.3,516.5], x: [-2.4,143], ticks: dfsKircTicks, name: 'KIRC', stats: dfsKircStats, lab: [7.6,3.5],
    sets: gepiaSets(dfsKircLow, dfsKircLowUp, dfsKircLowLo, dfsKircLowCens, dfsKircHigh, dfsKircHighUp, dfsKircHighLo, dfsKircHighCens)},
  {box: [542.7,400,665,516.5], x: [-0.3,94.7], ticks: dfsPaadTicks, name: 'PAAD', stats: dfsPaadStats, lab: [8.3,5.5],
    sets: gepiaSets(dfsPaadLow, dfsPaadLowUp, dfsPaadLowLo, dfsPaadLowCens, dfsPaadHigh, dfsPaadHighUp, dfsPaadHighLo, dfsPaadHighCens)},
  {box: [708.7,400,830,516.5], x: [-0.3,88], ticks: dfsUvmTicks, name: 'UVM', stats: dfsUvmStats, lab: [6.3,6.5],
    sets: gepiaSets(dfsUvmLow, dfsUvmLowUp, dfsUvmLowLo, dfsUvmLowCens, dfsUvmHigh, dfsUvmHighUp, dfsUvmHighLo, dfsUvmHighCens)}
];
plotsB.forEach(p => { p.xlab = 'Months'; kmChart(p, styleB, gepiaLegend); });
addText('Percent Survival', 23.3, 459, 'rot', 'font-family:Lato,sans-serif;font-size:14px;');

addText('C', 5.5, 543, 'panel', 'font-size:19px;');
const plotsC = [
  {box: [39.3,634,216,703], x: [-4.8,145], ticks: bladderTicks, lx: 61, title: [42.7,586,605],
    sets: rSets(bladderHigh, bladderHighUp, bladderHighLo, bladderHighCens, bladderLow, bladderLowUp, bladderLowLo, bladderLowCens)},
  {box: [257.3,634,430,703], x: [-10.4,215], ticks: bloodTicks, lx: 52, title: [268,586.5,604],
    sets: rSets(bloodHigh, bloodHighUp, bloodHighLo, bloodHighCens, bloodLow, bloodLowUp, bloodLowLo, bloodLowCens)},
  {box: [477.3,634,645,702], x: [-19.6,473.5], ticks: brainTicks, lx: 53, title: [474.3,588,605],
    sets: rSets(brainHigh, brainHighUp, brainHighLo, brainHighCens, brainLow, brainLowUp, brainLowLo, brainLowCens)},
  {box: [696.7,633.5,870,700], x: [-7,159], ticks: br7849Ticks, lx: 53, title: [711.7,587.5,603],
    sets: rSets(br7849High, br7849HighUp, br7849HighLo, br7849HighCens, br7849Low, br7849LowUp, br7849LowLo, br7849LowCens)},
  {box: [40,801,216.7,871], x: [-5.8,172], ticks: br9893Ticks, lx: 62, title: [45,753.5,768.5],
    sets: rSets(br9893High, br9893HighUp, br9893HighLo, br9893HighCens, br9893Low, br9893LowUp, br9893LowLo, br9893LowCens)},
  {box: [263.3,799.5,440,869.5], x: [-4.6,183], ticks: br2034Ticks, lx: 62, title: [256,755,771],
    sets: rSets(br2034High, br2034HighUp, br2034HighLo, br2034HighCens, br2034Low, br2034LowUp, br2034LowLo, br2034LowCens)},
  {box: [482.7,799.5,650.7,869], x: [-83,8590], ticks: br7390Ticks, lx: 58, title: [486.7,756,771],
    sets: rSets(br7390High, br7390HighUp, br7390HighLo, br7390HighCens, br7390Low, br7390LowUp, br7390LowLo, br7390LowCens)},
  {box: [696,798,872,863.5], x: [-46,1245], ticks: esoTicks, lx: 55, title: [676.7,755,771],
    sets: rSets(esoHigh, esoHighUp, esoHighLo, esoHighCens, esoLow, esoLowUp, esoLowLo, esoLowCens)},
  {box: [39.3,972,215,1042], x: [-5.4,124], ticks: eyeTicks, lx: 57, title: [36.7,925,941.5],
    sets: rSets(eyeHigh, eyeHighUp, eyeHighLo, eyeHighCens, eyeLow, eyeLowUp, eyeLowLo, eyeLowCens)},
  {box: [258.3,972,433,1041], x: [-150,4020], ticks: lungOsTicks, lx: 54, title: [268,924,941.5],
    sets: rSets(lungOsHigh, lungOsHighUp, lungOsHighLo, lungOsHighCens, lungOsLow, lungOsLowUp, lungOsLowLo, lungOsLowCens)},
  {box: [483,972,651,1041], x: [-120,3290], ticks: lungRfsTicks, lx: 56, title: [486.7,923,939],
    sets: rSets(lungRfsHigh, lungRfsHighUp, lungRfsHighLo, lungRfsHighCens, lungRfsLow, lungRfsLowUp, lungRfsLowLo, lungRfsLowCens)},
  {box: [697,972,871,1041], x: [-5.4,150], ticks: lung8894Ticks, lx: 56, title: [699,923,940],
    sets: rSets(lung8894High, lung8894HighUp, lung8894HighLo, lung8894HighCens, lung8894Low, lung8894LowUp, lung8894LowLo, lung8894LowCens)},
  {box: [41.7,1143,214.3,1212.5], x: [-4,166], ticks: softTicks, lx: 59, title: [16.7,1093,1111.5],
    sets: rSets(softHigh, softHighUp, softHighLo, softHighCens, softLow, softLowUp, softLowLo, softLowCens)}
];
plotsC.forEach((p, i) => {
  p.xlab = cXLabels[i];
  p.n = cGroupN[i];
  kmChart(p, rStyle, rLegend);
  const [tx, y1, y2] = p.title;
  const eso = i === 7;
  addText(cTitles[i][0], tx, y1 - 7, 'ttl', eso ? 'font-family:"Open Sans",sans-serif;font-size:13.5px;color:#444;' : '');
  addText(cTitles[i][1], tx, y2 - 7, 'ttl');
  addText('Probability', p.box[0] - 33, (p.box[1] + p.box[3]) / 2, 'rot', 'font-size:8.5px;color:#333;');
});
</script>
</body>
</html>
